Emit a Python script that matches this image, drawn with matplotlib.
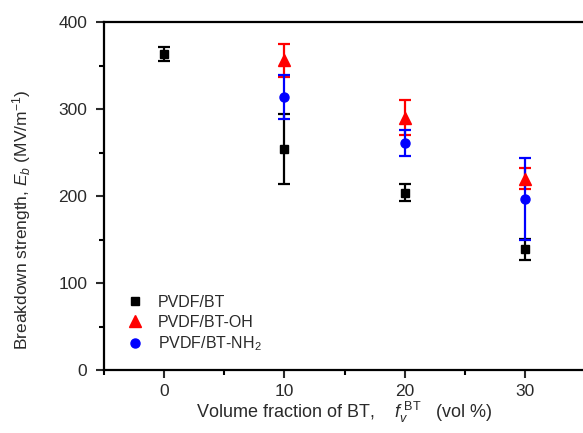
import matplotlib
matplotlib.use("Agg")
import matplotlib.pyplot as plt
from matplotlib.ticker import MultipleLocator

plt.rcParams['font.family'] = ['Liberation Sans', 'DejaVu Sans']
plt.rcParams['mathtext.fontset'] = 'custom'
plt.rcParams['mathtext.rm'] = 'Liberation Sans'
plt.rcParams['mathtext.it'] = 'Liberation Sans:italic'

# data
vol_bt = [0, 10, 20, 30]
eb_bt = [363, 254, 204, 139]
err_bt = [8, 40, 10, 12]

vol_oh = [10, 20, 30]
eb_oh = [356, 290, 220]
err_oh = [19, 20, 12]

vol_nh2 = [10, 20, 30]
eb_nh2 = [314, 261, 197]
err_nh2 = [25, 15, 47]

labels = ['PVDF/BT', 'PVDF/BT-OH', 'PVDF/BT-NH$_2$']
text_col = '#2a2a2a'

fig = plt.figure(figsize=(5.83, 4.33), dpi=100)
ax = fig.add_axes([104/583, 63/433, 481/583, 348/433])

common = dict(linestyle='none', capsize=4.3, elinewidth=1.6, capthick=1.6)
h1 = ax.errorbar(vol_bt, eb_bt, yerr=err_bt, fmt='s', color='black', markersize=6, **common)
h2 = ax.errorbar(vol_oh, eb_oh, yerr=err_oh, fmt='^', color='#ff0000', markersize=8, **common)
h3 = ax.errorbar(vol_nh2, eb_nh2, yerr=err_nh2, fmt='o', color='#0000ff', markersize=6.5, **common)

ax.set_xlim(-5, 35)
ax.set_ylim(0, 400)
ax.xaxis.set_major_locator(MultipleLocator(10))
ax.xaxis.set_minor_locator(MultipleLocator(5))
ax.yaxis.set_major_locator(MultipleLocator(100))
ax.yaxis.set_minor_locator(MultipleLocator(50))
ax.tick_params(which='major', direction='out', length=6, width=1.5, labelsize=12.5,
               colors=text_col)
ax.tick_params(axis='y', which='major', pad=6)
ax.tick_params(axis='x', which='major', pad=4)
ax.tick_params(which='minor', direction='out', length=3.5, width=1.5)
for s in ax.spines.values():
    s.set_linewidth(1.6)
ax.spines['right'].set_visible(False)

ax.set_xlabel('Volume fraction of BT,    $f_v^{\\ \\mathrm{BT}}$   (vol %)', fontsize=13,
              color=text_col, labelpad=1)
ax.set_ylabel('Breakdown strength, $E_b$ (MV/m$^{-1}$)', fontsize=12.5, color=text_col)
ax.yaxis.set_label_coords(-0.148, 0.43)

ax.legend([h1.lines[0], h2.lines[0], h3.lines[0]], labels,
          loc='lower left', bbox_to_anchor=(0.035, 0.03), borderaxespad=0, frameon=False,
          fontsize=11.5, handlelength=1, handletextpad=0.9, labelspacing=0.3,
          labelcolor=text_col)

fig.savefig('out.png', dpi=100)
